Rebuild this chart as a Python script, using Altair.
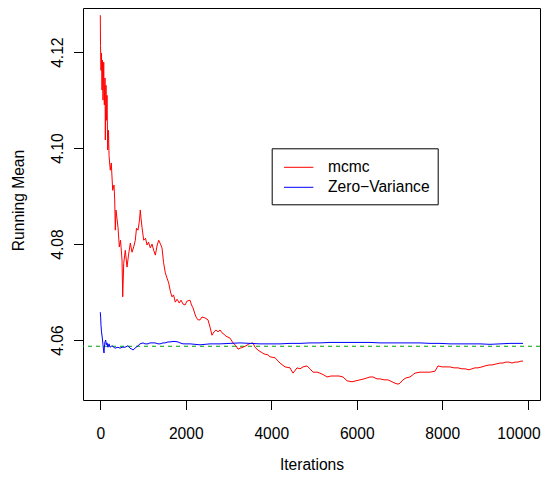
import altair as alt
import pandas as pd

# mcmc running mean
mcmc_x = [0, 5, 16, 28, 40, 51, 63, 80, 94, 110, 117, 133, 145, 157, 173, 192, 204, 222, 234, 257,
          290, 321, 337, 351, 367, 414, 445, 473, 508, 524, 548, 585, 625, 660, 702, 742, 781, 819,
          847, 882, 917, 936, 952, 976, 1015, 1058, 1093, 1128, 1170, 1210, 1249, 1287, 1327, 1366,
          1408, 1444, 1479, 1521, 1561, 1600, 1642, 1678, 1713, 1755, 1795, 1848, 1888, 1935, 1982,
          2028, 2099, 2134, 2169, 2216, 2239, 2286, 2333, 2379, 2450, 2520, 2567, 2613, 2660, 2707,
          2754, 2801, 2848, 2894, 2941, 2988, 3035, 3105, 3175, 3222, 3269, 3339, 3409, 3479, 3573,
          3619, 3690, 3760, 3830, 3924, 3971, 4088, 4205, 4322, 4439, 4509, 4602, 4673, 4743, 4836,
          4906, 4977, 5070, 5140, 5234, 5304, 5398, 5491, 5585, 5679, 5772, 5889, 5983, 6076, 6170,
          6240, 6310, 6380, 6474, 6544, 6638, 6731, 6825, 6895, 6965, 7012, 7082, 7152, 7246, 7363,
          7480, 7597, 7714, 7831, 7901, 7995, 8088, 8182, 8275, 8369, 8463, 8533, 8626, 8696, 8767,
          8837, 8930, 9000, 9094, 9164, 9258, 9351, 9422, 9492, 9562, 9632, 9702, 9773, 9843, 9890]
mcmc_y = [4.1277, 4.1214, 4.1162, 4.1198, 4.1121, 4.1183, 4.1100, 4.1179, 4.1090, 4.1146, 4.1017,
          4.1131, 4.1058, 4.1110, 4.0996, 4.1037, 4.0985, 4.0965, 4.0954, 4.0969, 4.0912, 4.0923,
          4.0892, 4.0829, 4.0871, 4.0835, 4.0794, 4.0808, 4.0767, 4.0690, 4.0760, 4.0787, 4.0752,
          4.0777, 4.0802, 4.0783, 4.0794, 4.0808, 4.0833, 4.0829, 4.0850, 4.0871, 4.0854, 4.0835,
          4.0808, 4.0812, 4.0798, 4.0804, 4.0792, 4.0800, 4.0787, 4.0777, 4.0796, 4.0808, 4.0800,
          4.0792, 4.0762, 4.0740, 4.0729, 4.0719, 4.0700, 4.0690, 4.0694, 4.0679, 4.0685, 4.0677,
          4.0683, 4.0675, 4.0673, 4.0681, 4.0683, 4.0673, 4.0667, 4.0654, 4.0648, 4.0642, 4.0642,
          4.0648, 4.0646, 4.0642, 4.0627, 4.0610, 4.0617, 4.0621, 4.0617, 4.0621, 4.0615, 4.0612,
          4.0608, 4.0606, 4.0604, 4.0594, 4.0588, 4.0581, 4.0583, 4.0585, 4.0588, 4.0592, 4.0594,
          4.0585, 4.0579, 4.0575, 4.0571, 4.0569, 4.0565, 4.0563, 4.0552, 4.0544, 4.0542, 4.0531,
          4.0542, 4.0540, 4.0544, 4.0546, 4.0540, 4.0533, 4.0533, 4.0531, 4.0527, 4.0523, 4.0525,
          4.0525, 4.0525, 4.0523, 4.0515, 4.0513, 4.0515, 4.0517, 4.0519, 4.0521, 4.0523, 4.0523,
          4.0519, 4.0519, 4.0517, 4.0517, 4.0513, 4.0510, 4.0508, 4.0510, 4.0517, 4.0521, 4.0523,
          4.0531, 4.0533, 4.0533, 4.0533, 4.0535, 4.0546, 4.0544, 4.0544, 4.0544, 4.0542, 4.0542,
          4.0540, 4.0540, 4.0538, 4.0540, 4.0542, 4.0542, 4.0544, 4.0546, 4.0548, 4.0548, 4.0550,
          4.0552, 4.0552, 4.0554, 4.0554, 4.0552, 4.0554, 4.0554, 4.0556, 4.0556]

# Zero-Variance running mean
zv_x = [0, 9, 16, 28, 47, 63, 75, 87, 98, 110, 126, 140, 157, 180, 204, 227, 274, 344, 414, 461,
        508, 578, 648, 695, 742, 765, 812, 882, 929, 999, 1046, 1116, 1163, 1233, 1280, 1350, 1397,
        1467, 1514, 1584, 1631, 1701, 1748, 1818, 1865, 1935, 1982, 2099, 2216, 2333, 2450, 2567,
        2801, 3035, 3269, 3503, 3737, 3971, 4205, 4439, 4673, 4906, 5140, 5374, 5608, 5842, 6076,
        6310, 6544, 6778, 7012, 7246, 7480, 7714, 7948, 8182, 8416, 8650, 8884, 9117, 9351, 9585, 9890]
zv_y = [4.0658, 4.0646, 4.0631, 4.0617, 4.0604, 4.0590, 4.0579, 4.0573, 4.0590, 4.0596, 4.0600,
        4.0590, 4.0594, 4.0585, 4.0592, 4.0585, 4.0588, 4.0583, 4.0585, 4.0583, 4.0585, 4.0585,
        4.0588, 4.0583, 4.0581, 4.0579, 4.0583, 4.0588, 4.0592, 4.0594, 4.0592, 4.0592, 4.0594,
        4.0594, 4.0594, 4.0592, 4.0592, 4.0594, 4.0594, 4.0596, 4.0596, 4.0597, 4.0597, 4.0596,
        4.0594, 4.0592, 4.0592, 4.0592, 4.0591, 4.0590, 4.0591, 4.0592, 4.0592, 4.0593, 4.0594,
        4.0593, 4.0592, 4.0592, 4.0592, 4.0593, 4.0593, 4.0594, 4.0594, 4.0595, 4.0595, 4.0595,
        4.0595, 4.0595, 4.0594, 4.0594, 4.0594, 4.0594, 4.0594, 4.0593, 4.0593, 4.0592, 4.0592,
        4.0592, 4.0592, 4.0591, 4.0592, 4.0593, 4.0593]

series_names = ["mcmc", "Zero\u2212Variance"]
series_colors = ["#FF0000", "#0000FF"]
reference_value = [4.0587]
x_ticks = [0, 2000, 4000, 6000, 8000, 10000]
y_ticks = [4.06, 4.08, 4.10, 4.12]

df = pd.concat([
    pd.DataFrame({"iter": mcmc_x, "mean": mcmc_y, "series": series_names[0]}),
    pd.DataFrame({"iter": zv_x, "mean": zv_y, "series": series_names[1]}),
])
ref_df = pd.DataFrame({"mean": reference_value})

FONT = "Liberation Sans"
FS = 15.6

x_scale = alt.Scale(domain=[-405, 10288], nice=False, zero=False)
y_scale = alt.Scale(domain=[4.0475, 4.1292], nice=False, zero=False)

x_enc = alt.X("iter:Q", scale=x_scale,
              axis=alt.Axis(values=x_ticks, format="d", title="Iterations", grid=False,
                            domain=False, tickColor="black", tickSize=9.5, labelFont=FONT,
                            labelFontSize=FS, labelColor="black", labelBaseline="alphabetic",
                            labelPadding=28.5, labelFlush=13, labelFlushOffset=12.5,
                            titleFont=FONT, titleFontSize=FS,
                            titleFontWeight="normal", titleColor="black",
                            titleBaseline="alphabetic", titleX=228.5, titleY=69.5))
y_enc = alt.Y("mean:Q", scale=y_scale,
              axis=alt.Axis(values=y_ticks, format=".2f", title="Running Mean", grid=False,
                            domain=False, tickColor="black", tickSize=9.5, labelFont=FONT,
                            labelFontSize=FS, labelColor="black", labelAngle=270,
                            labelAlign="center", labelBaseline="alphabetic", labelPadding=11.5,
                            labelFlush=False, titleFont=FONT, titleFontSize=FS,
                            titleFontWeight="normal", titleColor="black", titleAngle=270,
                            titleAlign="center", titleBaseline="alphabetic",
                            titleX=-59.5, titleY=192))

lines = alt.Chart(df).mark_line(strokeWidth=1, clip=True).encode(
    x=x_enc,
    y=y_enc,
    color=alt.Color("series:N",
                    scale=alt.Scale(domain=series_names, range=series_colors),
                    legend=alt.Legend(title=None, orient="none", legendX=188.7, legendY=140.3,
                                      strokeColor="black", fillColor="white", padding=8,
                                      symbolType="M-1.4,0H1.4", symbolSize=441,
                                      symbolStrokeWidth=1, symbolOffset=8, labelOffset=18.3,
                                      rowPadding=-3, labelFont=FONT, labelFontSize=FS,
                                      labelColor="black", labelLimit=300)),
)

ref = alt.Chart(ref_df).mark_rule(color="#00A000", strokeWidth=1, strokeDash=[4, 4]).encode(
    y=alt.Y("mean:Q", scale=y_scale),
)

chart = alt.layer(ref, lines).properties(
    width=457, height=392,
    autosize=alt.AutoSizeParams(type="none"),
    padding={"left": 75, "top": 0, "right": 1, "bottom": 73},
).configure_view(stroke="black", strokeWidth=1)

chart.save("out.html", embed_options={"renderer": "svg", "actions": False})
